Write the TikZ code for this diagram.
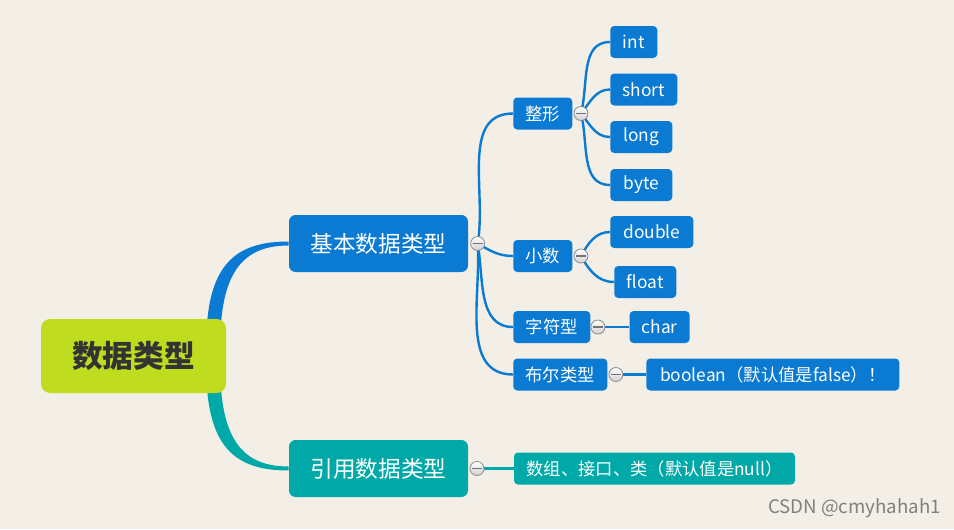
\documentclass[tikz,border=0pt]{standalone}
\usepackage{fontspec}
\setmainfont{Noto Sans CJK SC}
\usetikzlibrary{positioning}
\definecolor{paper}{HTML}{F3EFE6}
\definecolor{mblue}{HTML}{0A7AD2}
\definecolor{mteal}{HTML}{00A9A8}
\definecolor{mlime}{HTML}{BFDC1E}
\pgfdeclarelayer{bg}
\pgfsetlayers{bg,main}

\begin{document}
\begin{tikzpicture}[x=0.75pt,y=-0.75pt,
  every node/.style={align=center,text=white,inner sep=0pt},
  root/.style={fill=mlime,rounded corners=7pt,minimum width=185*0.75pt,minimum height=74*0.75pt,
    text=black!80,font=\fontsize{23}{27}\selectfont\bfseries},
  branch/.style={rounded corners=5pt,minimum width=179*0.75pt,minimum height=57*0.75pt,
    font=\fontsize{17}{20}\selectfont},
  box/.style={fill=mblue,rounded corners=3pt,anchor=west,minimum width=#1*0.75pt,minimum height=24pt,
    font=\fontsize{13}{15}\selectfont},
  toggle/.style={circle,draw=black!45,line width=0.6pt,top color=white,bottom color=black!18,
    minimum size=10.5pt,path picture={\draw[black!55,line width=0.9pt]
      ([xshift=1.5pt]path picture bounding box.west) -- ([xshift=-1.5pt]path picture bounding box.east);}},
  link/.style={draw=mblue,line width=1.8pt}]
\node[root] (root) at (133.5,356) {数据类型};
\node[branch,fill=mblue] (basic) at (378.5,243.5) {基本数据类型};
\node[branch,fill=mteal] (ref) at (378.5,468.5) {引用数据类型};
\node[toggle,right=1.5pt of basic] (tb) {};
\node[toggle,right=1pt of ref] (tr) {};
% second level
\node[box=59] (zx) at (513,113.5) {整形};
\node[box=59] (xs) at (513,256) {小数};
\node[box=77] (zf) at (513,327) {字符型};
\node[box=94] (be) at (513,374.5) {布尔类型};
\node[box=281,fill=mteal,minimum height=24pt] (sz) [right=22pt of tr] {数组、接口、类（默认值是null）};
\node[toggle,right=0.75pt of zx] (tz) {};
\node[toggle,right=0.75pt of xs] (tx) {};
\node[toggle,right=0pt of zf] (tf) {};
\node[toggle,right=0.75pt of be] (tl) {};
% leaves
\node[box=47] (i) at (610,42) {int};
\node[box=67] (sh) at (610,89.5) {short};
\node[box=62] (lo) at (610,137) {long};
\node[box=62] (by) at (610,185) {byte};
\node[box=83] (db) at (610,232) {double};
\node[box=62] (fl) at (614,282) {float};
\node[box=60,right=18pt of tf] (ch) {char};
\node[box=253,right=17pt of tl] (bo) {boolean（默认值是false）！};
\node[text=black!50,font=\fontsize{14}{16}\selectfont,anchor=east] (mark) at (941,508) {CSDN @cmyhahah1};
\begin{pgfonlayer}{bg}
\fill[paper] (0,0) rectangle (954,529);
\fill[mblue] ([shift={(-20,26)}]root.north east) .. controls +(0,-80) and +(-54,0) .. ([shift={(0,-2)}]basic.west)
  -- ([shift={(0,2)}]basic.west) .. controls +(-44,0) and +(0,-75) .. ([shift={(-6,26)}]root.north east) -- cycle;
\fill[mteal] ([shift={(-20,-26)}]root.south east) .. controls +(0,80) and +(-54,0) .. ([shift={(0,2)}]ref.west)
  -- ([shift={(0,-2)}]ref.west) .. controls +(-44,0) and +(0,75) .. ([shift={(-6,-26)}]root.south east) -- cycle;
\draw[link] (tb.center) to[out=80,in=180] (zx.west);
\draw[link] (tb.center) to[out=-30,in=180] (xs.west);
\draw[link] (tb.center) to[out=-80,in=180] (zf.west);
\draw[link] (tb.center) to[out=-86,in=180] (be.west);
\draw[link] (tz.center) to[out=75,in=180] (i.west);
\draw[link] (tz.center) to[out=50,in=180] (sh.west);
\draw[link] (tz.center) to[out=-50,in=180] (lo.west);
\draw[link] (tz.center) to[out=-75,in=180] (by.west);
\draw[link] (tx.center) to[out=60,in=180] (db.west);
\draw[link] (tx.center) to[out=-60,in=180] (fl.west);
\draw[link] (tf.center) -- (ch.west);
\draw[link] (tl.center) -- (bo.west);
\draw[link,draw=mteal,line width=2pt] (tr.center) -- (sz.west);
\end{pgfonlayer}
\end{tikzpicture}
\end{document}
